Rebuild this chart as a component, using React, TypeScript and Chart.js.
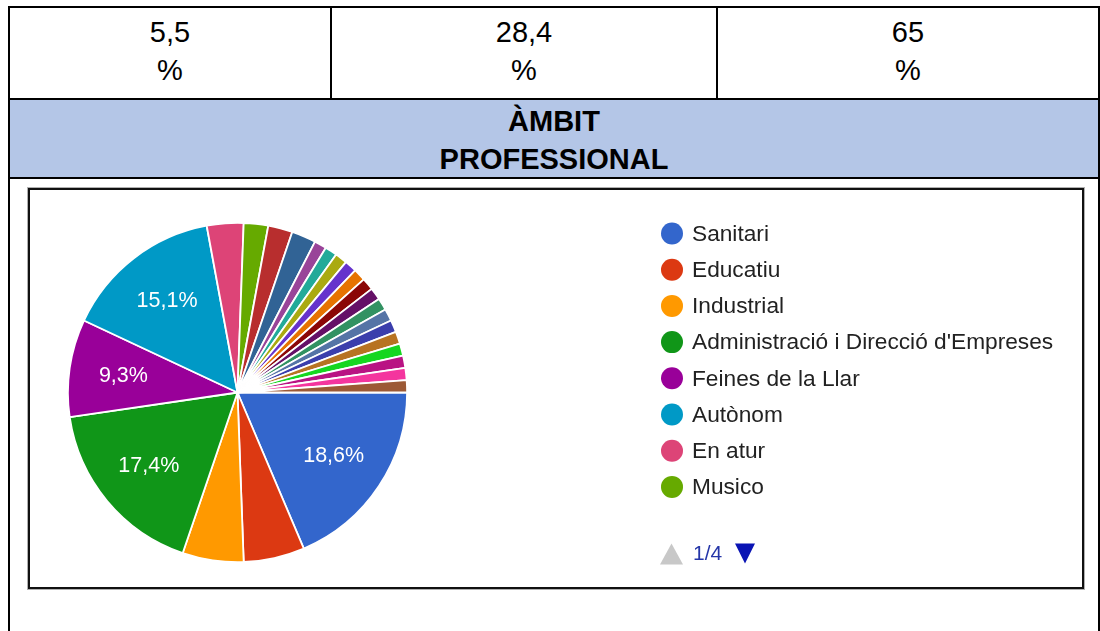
import React, { useEffect, useRef } from "react";
import { Chart, registerables } from "chart.js";

Chart.register(...registerables);

// ---- Data ----
const headerValues = ["5,5", "28,4", "65"];
const headerUnit = "%";
const sectionTitle = ["ÀMBIT", "PROFESSIONAL"];

const categories = [
  "Sanitari",
  "Educatiu",
  "Industrial",
  "Administració i Direcció d'Empreses",
  "Feines de la Llar",
  "Autònom",
  "En atur",
  "Musico",
  "Categoria 9",
  "Categoria 10",
  "Categoria 11",
  "Categoria 12",
  "Categoria 13",
  "Categoria 14",
  "Categoria 15",
  "Categoria 16",
  "Categoria 17",
  "Categoria 18",
  "Categoria 19",
  "Categoria 20",
  "Categoria 21",
  "Categoria 22",
  "Categoria 23",
  "Categoria 24",
  "Categoria 25",
];

const responses = [16, 5, 5, 15, 8, 13, 3, 2, 2, 2, 1, 1, 1, 1, 1, 1, 1, 1, 1, 1, 1, 1, 1, 1, 1];

const sliceColors = [
  "#3366CC", "#DC3912", "#FF9900", "#109618", "#990099", "#0099C6", "#DD4477",
  "#66AA00", "#B82E2E", "#316395", "#994499", "#22AA99", "#AAAA11", "#6633CC",
  "#E67300", "#8B0707", "#651067", "#329262", "#5574A6", "#3B3EAC", "#B77322",
  "#16D620", "#B91383", "#F4359E", "#9C5935",
];

const legendPageSize = 8;
const legendPageLabel = "1/4";
const labelThreshold = 0.07;

const FONT = "Arial, 'Liberation Sans', sans-serif";

const sliceLabelsPlugin = {
  id: "sliceLabels",
  afterDatasetsDraw(chart: any) {
    const meta = chart.getDatasetMeta(0);
    const data = chart.data.datasets[0].data as number[];
    const total = data.reduce((a, b) => a + b, 0);
    const ctx = chart.ctx;
    ctx.save();
    ctx.font = `21.5px ${FONT}`;
    ctx.fillStyle = "#ffffff";
    ctx.textAlign = "center";
    ctx.textBaseline = "middle";
    meta.data.forEach((arc: any, i: number) => {
      const frac = data[i] / total;
      if (frac < labelThreshold) return;
      const p = arc.getProps(["x", "y", "startAngle", "endAngle", "outerRadius"], true);
      const mid = (p.startAngle + p.endAngle) / 2;
      const r = p.outerRadius * 0.68;
      const txt = (frac * 100).toFixed(1).replace(".", ",") + "%";
      ctx.fillText(txt, p.x + Math.cos(mid) * r, p.y + Math.sin(mid) * r);
    });
    ctx.restore();
  },
};

const pagedLegendPlugin = {
  id: "pagedLegend",
  afterDraw(chart: any) {
    const ctx = chart.ctx;
    const labels = chart.data.labels as string[];
    const colors = chart.data.datasets[0].backgroundColor as string[];
    const dotX = 642;
    const textX = 662;
    const firstY = 43.5;
    const rowGap = 36.2;
    ctx.save();
    ctx.font = `22.7px ${FONT}`;
    ctx.textBaseline = "middle";
    ctx.textAlign = "left";
    for (let i = 0; i < Math.min(legendPageSize, labels.length); i++) {
      const y = firstY + i * rowGap;
      ctx.beginPath();
      ctx.arc(dotX, y, 11, 0, Math.PI * 2);
      ctx.fillStyle = colors[i];
      ctx.fill();
      ctx.fillStyle = "#222222";
      ctx.fillText(labels[i], textX, y + 1);
    }
    // pager
    const py = 363.5;
    ctx.fillStyle = "#c8c8c8";
    ctx.beginPath();
    ctx.moveTo(630, py + 11);
    ctx.lineTo(653, py + 11);
    ctx.lineTo(641.5, py - 10);
    ctx.closePath();
    ctx.fill();
    ctx.fillStyle = "#2536a8";
    ctx.font = `21px ${FONT}`;
    ctx.fillText(legendPageLabel, 663, py + 1);
    ctx.fillStyle = "#0a14b4";
    ctx.beginPath();
    ctx.moveTo(705, py - 10);
    ctx.lineTo(725, py - 10);
    ctx.lineTo(715, py + 10);
    ctx.closePath();
    ctx.fill();
    ctx.restore();
  },
};

function PieChart() {
  const ref = useRef<HTMLCanvasElement | null>(null);
  useEffect(() => {
    if (!ref.current) return;
    const chart = new Chart(ref.current, {
      type: "pie",
      data: {
        labels: categories,
        datasets: [
          {
            data: responses,
            backgroundColor: sliceColors,
            borderColor: "#ffffff",
            borderWidth: 1.8,
            hoverOffset: 0,
            offset: 0,
          } as any,
        ],
      },
      options: {
        animation: false,
        responsive: false,
        devicePixelRatio: 1,
        rotation: 90,
        layout: { padding: { left: 37, right: 674, top: 32, bottom: 24 } },
        plugins: {
          legend: { display: false },
          tooltip: { enabled: false },
        },
      },
      plugins: [sliceLabelsPlugin, pagedLegendPlugin],
    });
    return () => chart.destroy();
  }, []);
  return (
    <canvas
      ref={ref}
      width={1052}
      height={397}
      style={{ position: "absolute", left: 30, top: 190, width: 1052, height: 397 }}
    />
  );
}

export default function App() {
  const line = (style: React.CSSProperties) => (
    <div style={{ position: "absolute", background: "#000", ...style }} />
  );
  const cols = [
    { left: 10, width: 320 },
    { left: 332, width: 384 },
    { left: 718, width: 380 },
  ];
  const textBase: React.CSSProperties = {
    position: "absolute",
    fontFamily: FONT,
    fontSize: 29,
    lineHeight: "29px",
    textAlign: "center",
    color: "#000",
    whiteSpace: "nowrap",
  };
  return (
    <div
      style={{
        position: "fixed",
        left: 0,
        top: 0,
        width: 1100,
        height: 631,
        background: "#fff",
        overflow: "hidden",
      }}
    >
      {/* header row background */}
      <div style={{ position: "absolute", left: 10, top: 100, width: 1088, height: 77, background: "#B4C6E7" }} />
      {line({ left: 8, top: 6, width: 1092, height: 2 })}
      {line({ left: 8, top: 98, width: 1092, height: 2 })}
      {line({ left: 8, top: 177, width: 1092, height: 2 })}
      {line({ left: 8, top: 6, width: 2, height: 625 })}
      {line({ left: 1098, top: 6, width: 2, height: 625 })}
      {line({ left: 330, top: 8, width: 2, height: 90 })}
      {line({ left: 716, top: 8, width: 2, height: 90 })}

      {headerValues.map((v, i) => (
        <React.Fragment key={i}>
          <div style={{ ...textBase, left: cols[i].left, width: cols[i].width, top: 17.5 }}>{v}</div>
          <div style={{ ...textBase, left: cols[i].left, width: cols[i].width, top: 55.5 }}>{headerUnit}</div>
        </React.Fragment>
      ))}

      {sectionTitle.map((t, i) => (
        <div
          key={t}
          style={{ ...textBase, fontWeight: "bold", left: 10, width: 1088, top: 106.5 + i * 38 }}
        >
          {t}
        </div>
      ))}

      {/* chart box */}
      <div
        style={{
          position: "absolute",
          left: 28,
          top: 188,
          width: 1052,
          height: 397,
          border: "2px solid #111",
          boxShadow: "0 0 0 1px #b0b0b0",
        }}
      />
      <PieChart />
    </div>
  );
}
